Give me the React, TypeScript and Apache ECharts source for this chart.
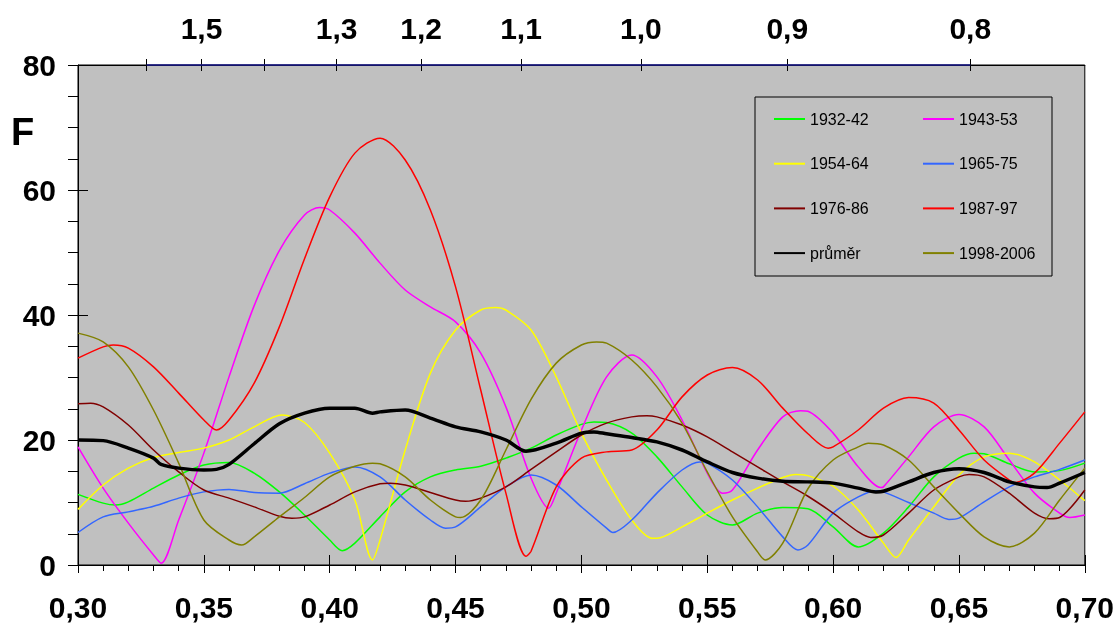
import React, { useEffect, useRef } from "react";
import * as echarts from "echarts";

const FONT = "'Liberation Sans', Arial, sans-serif";
const K = Math.PI / 6;

const topTickPeriods = [1.6, 1.5, 1.4, 1.3, 1.2, 1.1, 1.0, 0.9, 0.8];
const topLabelPeriods = [1.5, 1.3, 1.2, 1.1, 1.0, 0.9, 0.8];

const s1932_42 = [[0.30,11.3],[0.31,9.9],[0.315,9.6],[0.32,10.1],[0.33,12.3],[0.34,14.4],[0.35,16.0],[0.36,16.4],[0.37,14.7],[0.38,11.7],[0.39,8.0],[0.40,4.0],[0.405,2.3],[0.41,3.5],[0.42,7.7],[0.43,11.7],[0.44,14.1],[0.45,15.2],[0.46,15.8],[0.47,17.1],[0.48,18.7],[0.49,20.8],[0.50,22.5],[0.505,22.9],[0.51,22.8],[0.52,21.1],[0.53,17.3],[0.54,12.5],[0.55,8.0],[0.56,6.4],[0.57,8.3],[0.58,9.2],[0.59,9.0],[0.60,6.1],[0.61,2.9],[0.62,5.1],[0.63,9.3],[0.64,14.1],[0.65,17.1],[0.656,17.9],[0.66,17.8],[0.67,16.2],[0.68,14.9],[0.69,15.1],[0.70,16.3]];
const s1943_53 = [[0.30,18.9],[0.31,12.3],[0.32,6.7],[0.33,1.6],[0.333,0.3],[0.34,7.2],[0.35,17.9],[0.36,30.1],[0.37,41.5],[0.38,50.3],[0.39,56.0],[0.396,57.2],[0.40,56.8],[0.41,53.1],[0.42,48.3],[0.43,44.0],[0.44,41.3],[0.45,38.9],[0.46,33.9],[0.47,25.3],[0.48,13.9],[0.487,9.1],[0.49,11.5],[0.50,21.6],[0.51,30.1],[0.52,33.6],[0.53,30.1],[0.54,23.2],[0.55,14.7],[0.556,11.5],[0.56,12.0],[0.57,18.4],[0.58,23.7],[0.587,24.7],[0.59,24.6],[0.60,21.1],[0.61,15.7],[0.619,12.4],[0.62,12.5],[0.63,17.3],[0.64,22.1],[0.65,24.1],[0.66,22.1],[0.67,16.8],[0.68,11.5],[0.69,8.3],[0.694,7.6],[0.70,8.0]];
const s1954_64 = [[0.30,8.9],[0.31,12.8],[0.32,15.5],[0.33,17.2],[0.34,18.0],[0.35,18.7],[0.36,20.0],[0.37,22.1],[0.381,24.0],[0.39,22.8],[0.40,17.9],[0.41,10.4],[0.417,0.8],[0.42,4.0],[0.43,18.4],[0.44,30.7],[0.45,37.6],[0.46,40.8],[0.466,41.2],[0.47,40.8],[0.48,37.6],[0.49,30.1],[0.50,21.1],[0.51,13.6],[0.52,7.2],[0.528,4.3],[0.53,4.3],[0.54,6.1],[0.55,8.3],[0.56,10.4],[0.57,12.3],[0.58,14.0],[0.585,14.5],[0.59,14.3],[0.60,12.6],[0.61,8.8],[0.62,3.5],[0.625,1.2],[0.63,4.0],[0.64,9.3],[0.65,14.4],[0.66,17.3],[0.67,17.9],[0.68,16.5],[0.69,13.6],[0.70,10.3]];
const s1965_75 = [[0.30,5.2],[0.31,7.7],[0.32,8.5],[0.33,9.4],[0.34,10.7],[0.35,11.7],[0.36,12.1],[0.37,11.6],[0.38,11.5],[0.39,13.0],[0.40,14.7],[0.41,15.7],[0.42,14.1],[0.43,10.4],[0.44,7.2],[0.446,5.9],[0.45,6.1],[0.46,9.3],[0.47,12.5],[0.48,14.4],[0.49,12.8],[0.50,9.3],[0.51,5.9],[0.5125,5.2],[0.52,7.2],[0.53,11.5],[0.54,15.2],[0.547,16.5],[0.55,16.3],[0.56,13.6],[0.57,9.3],[0.58,4.5],[0.586,2.4],[0.59,3.2],[0.60,8.3],[0.61,10.9],[0.617,11.9],[0.62,11.7],[0.63,10.0],[0.64,8.3],[0.646,7.3],[0.65,7.5],[0.66,10.1],[0.67,12.5],[0.68,14.1],[0.69,15.3],[0.70,16.8]];
const s1976_86 = [[0.30,25.8],[0.305,25.9],[0.31,25.3],[0.32,22.4],[0.33,18.4],[0.34,14.9],[0.35,12.0],[0.36,10.7],[0.37,9.3],[0.38,7.8],[0.385,7.5],[0.39,7.7],[0.40,9.6],[0.41,11.7],[0.42,13.0],[0.424,13.1],[0.43,12.8],[0.44,11.6],[0.45,10.4],[0.454,10.2],[0.46,10.7],[0.47,12.5],[0.48,15.3],[0.49,18.1],[0.50,20.8],[0.51,22.7],[0.52,23.7],[0.526,23.9],[0.53,23.7],[0.54,22.4],[0.55,20.5],[0.56,18.1],[0.57,15.7],[0.58,13.3],[0.59,11.0],[0.60,8.3],[0.61,5.3],[0.615,4.4],[0.62,4.8],[0.63,8.3],[0.64,12.0],[0.65,14.1],[0.654,14.5],[0.66,14.1],[0.67,11.5],[0.68,8.3],[0.686,7.4],[0.69,7.6],[0.70,12.0]];
const s1987_97 = [[0.30,33.1],[0.31,34.9],[0.314,35.2],[0.32,34.7],[0.33,31.7],[0.34,27.5],[0.35,23.2],[0.355,21.6],[0.36,23.2],[0.37,29.1],[0.38,38.1],[0.39,49.0],[0.40,58.9],[0.41,65.9],[0.42,68.3],[0.43,64.8],[0.44,56.8],[0.45,44.5],[0.46,28.0],[0.47,11.5],[0.478,1.4],[0.48,2.2],[0.49,12.5],[0.50,17.1],[0.51,18.1],[0.52,18.4],[0.53,21.6],[0.54,26.9],[0.55,30.4],[0.56,31.6],[0.57,29.6],[0.58,25.1],[0.59,21.0],[0.598,18.7],[0.60,18.9],[0.61,21.6],[0.62,25.1],[0.63,26.8],[0.64,25.9],[0.65,21.6],[0.66,16.8],[0.67,13.6],[0.672,13.2],[0.68,14.7],[0.69,19.5],[0.70,24.5]];
const sPrumer = [[0.30,20.0],[0.31,19.9],[0.32,18.7],[0.33,17.1],[0.333,16.1],[0.34,15.5],[0.35,15.2],[0.355,15.3],[0.36,16.1],[0.37,19.4],[0.38,22.6],[0.39,24.3],[0.40,25.1],[0.41,25.1],[0.417,24.3],[0.42,24.5],[0.43,24.8],[0.44,23.5],[0.45,22.1],[0.46,21.3],[0.47,20.0],[0.478,18.2],[0.49,19.5],[0.50,21.1],[0.505,21.3],[0.51,21.0],[0.52,20.4],[0.53,19.7],[0.54,18.4],[0.55,16.5],[0.56,14.8],[0.57,13.9],[0.58,13.4],[0.59,13.3],[0.60,13.1],[0.61,12.3],[0.617,11.7],[0.62,11.8],[0.63,13.3],[0.64,14.8],[0.65,15.4],[0.66,14.8],[0.67,13.3],[0.68,12.5],[0.685,12.4],[0.69,13.1],[0.70,14.8]];
const s1998_2006 = [[0.30,37.1],[0.31,35.7],[0.32,31.7],[0.33,24.8],[0.34,16.3],[0.35,7.2],[0.36,4.0],[0.365,3.2],[0.37,4.5],[0.38,7.7],[0.39,10.8],[0.40,14.1],[0.41,15.8],[0.417,16.3],[0.42,16.2],[0.43,14.1],[0.44,10.4],[0.45,7.7],[0.452,7.6],[0.46,10.4],[0.47,18.4],[0.48,26.5],[0.49,32.3],[0.50,35.2],[0.506,35.7],[0.51,35.5],[0.52,32.8],[0.53,28.5],[0.54,22.7],[0.55,14.9],[0.56,7.7],[0.57,2.1],[0.573,0.8],[0.58,3.5],[0.59,12.2],[0.60,16.8],[0.61,18.9],[0.614,19.5],[0.62,19.2],[0.63,16.8],[0.64,12.5],[0.65,8.3],[0.66,4.5],[0.67,2.9],[0.68,5.1],[0.69,10.4],[0.70,15.5]];

const seriesDefs = [
  { name: "1932-42", data: s1932_42, color: "#00ff00", width: 1.5 },
  { name: "1943-53", data: s1943_53, color: "#ff00ff", width: 1.5 },
  { name: "1954-64", data: s1954_64, color: "#ffff00", width: 1.5 },
  { name: "1965-75", data: s1965_75, color: "#3366ff", width: 1.5 },
  { name: "1976-86", data: s1976_86, color: "#800000", width: 1.5 },
  { name: "1987-97", data: s1987_97, color: "#ff0000", width: 1.5 },
  { name: "průměr", data: sPrumer, color: "#000000", width: 3.5 },
  { name: "1998-2006", data: s1998_2006, color: "#808000", width: 1.5 },
];

const legendLeft = ["1932-42", "1954-64", "1976-86", "průměr"];
const legendRight = ["1943-53", "1965-75", "1987-97", "1998-2006"];

export default function App() {
  const ref = useRef<HTMLDivElement>(null);
  useEffect(() => {
    if (!ref.current) return;
    const chart = echarts.init(ref.current, null, { renderer: "svg" });
    const labelStyle = { fontFamily: FONT, fontWeight: "bold", fontSize: 30, color: "#000" };
    const legendCommon = {
      orient: "vertical",
      top: 111,
      itemWidth: 31,
      itemHeight: 16,
      itemGap: 28.7,
      padding: 0,
      selectedMode: false,
      itemStyle: { color: "rgba(0,0,0,0)", borderColor: "rgba(0,0,0,0)", borderWidth: 0, opacity: 0 },
      textStyle: { fontFamily: FONT, fontSize: 16, color: "#000" },
    };
    const series: any[] = seriesDefs.map((d) => ({
      type: "line",
      name: d.name,
      data: d.data,
      smooth: 0.3,
      symbol: "none",
      xAxisIndex: 0,
      yAxisIndex: 0,
      z: d.name === "průměr" ? 5 : 3,
      lineStyle: { color: d.color, width: d.width },
      itemStyle: { color: d.color },
    }));
    series.push({
      type: "line",
      name: "topline",
      data: [[K / topTickPeriods[0], 80], [K / topTickPeriods[topTickPeriods.length - 1], 80]],
      symbol: "none",
      clip: false,
      z: 6,
      lineStyle: { color: "#1a1a8c", width: 1.5 },
      silent: true,
    });
    chart.setOption({
      animation: false,
      grid: {
        left: 78,
        right: 32,
        top: 65,
        bottom: 60,
        show: true,
        backgroundColor: "#c0c0c0",
        borderColor: "#000",
        borderWidth: 1,
      },
      xAxis: [
        {
          type: "value",
          position: "bottom",
          min: 0.3,
          max: 0.7,
          interval: 0.05,
          axisLine: { show: true, onZero: false, lineStyle: { color: "#000", width: 1 } },
          axisTick: { show: true, length: 8, lineStyle: { color: "#000" } },
          minorTick: { show: true, splitNumber: 5, length: 6, lineStyle: { color: "#000" } },
          splitLine: { show: false },
          axisLabel: { ...labelStyle, margin: 27, formatter: (v: number) => v.toFixed(2).replace(".", ",") },
        },
        {
          type: "value",
          position: "bottom",
          min: 0.3,
          max: 0.7,
          interval: 0.05,
          axisLine: { show: false, onZero: false },
          axisTick: { show: true, inside: true, length: 10, lineStyle: { color: "#000" } },
          splitLine: { show: false },
          axisLabel: { show: false },
        },
        {
          type: "value",
          position: "top",
          min: 0.3,
          max: 0.7,
          axisLine: { show: true, onZero: false, lineStyle: { color: "#000", width: 1 } },
          axisTick: { show: true, length: 6, customValues: topTickPeriods.map((p) => K / p), lineStyle: { color: "#000" } },
          splitLine: { show: false },
          axisLabel: {
            ...labelStyle,
            margin: 22,
            customValues: topLabelPeriods.map((p) => K / p),
            formatter: (v: number) => (K / v).toFixed(1).replace(".", ","),
          },
        },
        {
          type: "value",
          position: "top",
          min: 0.3,
          max: 0.7,
          axisLine: { show: false, onZero: false },
          axisTick: { show: true, inside: true, length: 6, customValues: topTickPeriods.map((p) => K / p), lineStyle: { color: "#000" } },
          splitLine: { show: false },
          axisLabel: { show: false },
        },
      ],
      yAxis: [
        {
          type: "value",
          position: "left",
          min: 0,
          max: 80,
          interval: 20,
          axisLine: { show: true, onZero: false, lineStyle: { color: "#000", width: 1 } },
          axisTick: { show: true, length: 10, lineStyle: { color: "#000" } },
          minorTick: { show: true, splitNumber: 4, length: 10, lineStyle: { color: "#000" } },
          splitLine: { show: false },
          axisLabel: { ...labelStyle, margin: 22 },
        },
        {
          type: "value",
          position: "left",
          min: 0,
          max: 80,
          interval: 20,
          axisLine: { show: false, onZero: false },
          axisTick: { show: true, inside: true, length: 10, lineStyle: { color: "#000" } },
          splitLine: { show: false },
          axisLabel: { show: false },
        },
      ],
      legend: [
        { ...legendCommon, left: 773, data: legendLeft },
        { ...legendCommon, left: 922, data: legendRight },
      ],
      graphic: [
        {
          type: "rect",
          z: 3,
          shape: { x: 755, y: 97, width: 297, height: 179 },
          style: { fill: "#c0c0c0", stroke: "#000", lineWidth: 1 },
        },
        {
          type: "text",
          left: 11,
          top: 113,
          style: { text: "F", font: `bold 38px ${FONT}`, fill: "#000" },
        },
      ],
      series,
    });
    return () => chart.dispose();
  }, []);
  return <div ref={ref} style={{ position: "fixed", left: 0, top: 0, width: 1117, height: 625 }} />;
}
